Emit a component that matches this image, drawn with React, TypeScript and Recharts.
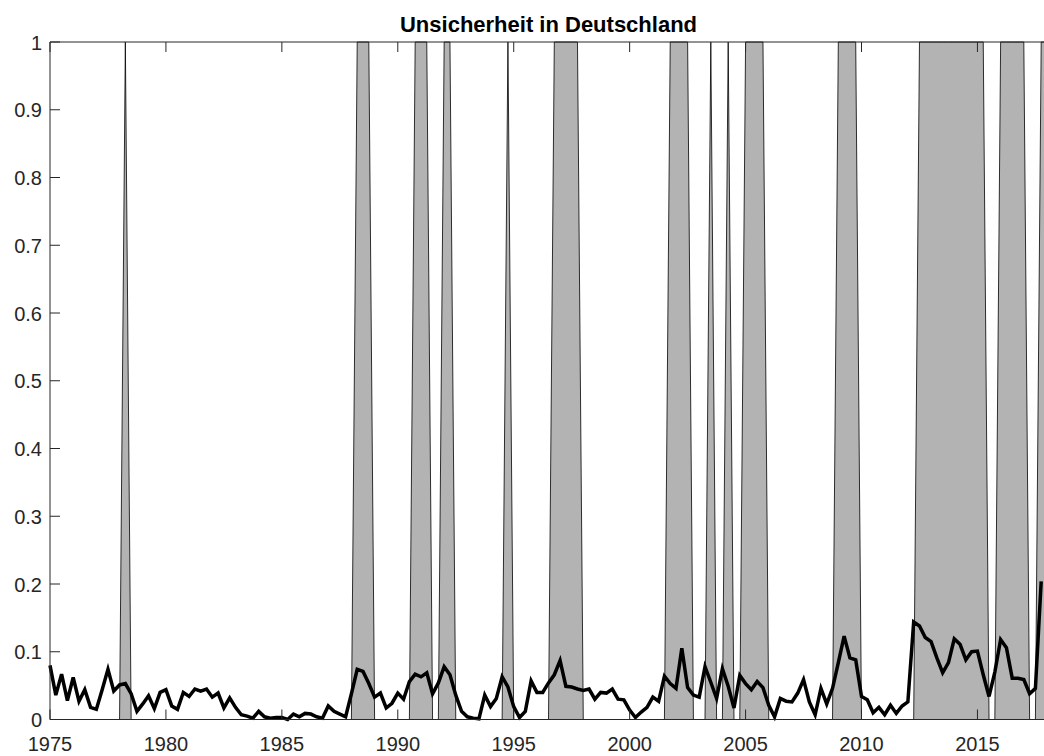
import React from 'react';
import { ComposedChart, Area, Line, XAxis, YAxis } from 'recharts';

// Quartalswerte ab 1975Q1
const firstYear = 1975;
const lastQuarter = 2018; // rechter Rand der Achse

const uncertainty = [
  0.080, 0.036, 0.067, 0.028, // 1975
  0.062, 0.027, 0.044, 0.018, // 1976
  0.015, 0.044, 0.074, 0.042, // 1977
  0.051, 0.053, 0.038, 0.012, // 1978
  0.023, 0.035, 0.016, 0.040, // 1979
  0.044, 0.020, 0.015, 0.040, // 1980
  0.034, 0.045, 0.042, 0.045, // 1981
  0.033, 0.039, 0.017, 0.032, // 1982
  0.018, 0.007, 0.005, 0.002, // 1983
  0.012, 0.004, 0.002, 0.003, // 1984
  0.003, 0.000, 0.008, 0.004, // 1985
  0.009, 0.008, 0.004, 0.002, // 1986
  0.020, 0.012, 0.008, 0.004, // 1987
  0.038, 0.074, 0.071, 0.053, // 1988
  0.033, 0.039, 0.017, 0.024, // 1989
  0.039, 0.030, 0.056, 0.067, // 1990
  0.063, 0.069, 0.038, 0.054, // 1991
  0.078, 0.066, 0.036, 0.012, // 1992
  0.004, 0.002, 0.001, 0.036, // 1993
  0.019, 0.031, 0.063, 0.048, // 1994
  0.019, 0.003, 0.012, 0.057, // 1995
  0.040, 0.040, 0.054, 0.066, // 1996
  0.087, 0.049, 0.048, 0.045, // 1997
  0.043, 0.045, 0.030, 0.040, // 1998
  0.039, 0.045, 0.030, 0.029, // 1999
  0.014, 0.003, 0.011, 0.018, // 2000
  0.033, 0.027, 0.064, 0.053, // 2001
  0.046, 0.105, 0.047, 0.036, // 2002
  0.033, 0.078, 0.055, 0.031, // 2003
  0.075, 0.049, 0.017, 0.065, // 2004
  0.053, 0.044, 0.056, 0.047, // 2005
  0.021, 0.004, 0.031, 0.027, // 2006
  0.026, 0.039, 0.059, 0.026, // 2007
  0.007, 0.046, 0.023, 0.046, // 2008
  0.084, 0.123, 0.091, 0.088, // 2009
  0.034, 0.029, 0.010, 0.018, // 2010
  0.007, 0.021, 0.009, 0.020, // 2011
  0.026, 0.144, 0.138, 0.121, // 2012
  0.115, 0.091, 0.069, 0.084, // 2013
  0.119, 0.111, 0.088, 0.100, // 2014
  0.101, 0.066, 0.034, 0.070, // 2015
  0.118, 0.106, 0.061, 0.061, // 2016
  0.059, 0.038, 0.046, 0.204, // 2017
];

// Phasen hoher Unsicherheit (erstes und letztes Quartal)
const highPhases: [number, number][] = [
  [1978.25, 1978.25],
  [1988.25, 1988.75],
  [1990.75, 1991.25],
  [1992.0, 1992.25],
  [1994.75, 1994.75],
  [1996.75, 1997.75],
  [2001.75, 2002.5],
  [2003.5, 2003.5],
  [2004.25, 2004.25],
  [2005.0, 2005.75],
  [2009.0, 2009.75],
  [2012.5, 2015.25],
  [2016.0, 2017.0],
  [2017.75, 2018.0],
];

const xTicks = [1975, 1980, 1985, 1990, 1995, 2000, 2005, 2010, 2015];
const yTicks = [0, 0.1, 0.2, 0.3, 0.4, 0.5, 0.6, 0.7, 0.8, 0.9, 1];

const quarters: number[] = [];
for (let q = firstYear; q <= lastQuarter; q += 0.25) quarters.push(q);

const data = quarters.map((t, i) => ({
  t,
  u: i < uncertainty.length ? uncertainty[i] : null,
  rec: highPhases.some(([a, b]) => t >= a - 1e-6 && t <= b + 1e-6) ? 1 : 0,
}));

const font = '"Liberation Sans", Arial, Helvetica, sans-serif';
const axisColor = '#262626';
const TICK = 10;

const BottomTick = (props: any) => {
  const { x, y, payload } = props;
  return (
    <g>
      <line x1={x} y1={y} x2={x} y2={y - TICK} stroke={axisColor} strokeWidth={1} />
      <text x={x} y={y + 31} textAnchor="middle" fontSize={20} fontFamily={font} fill={axisColor}>
        {payload.value}
      </text>
    </g>
  );
};

const TopTick = (props: any) => {
  const { x, y } = props;
  return <line x1={x} y1={y} x2={x} y2={y + TICK} stroke={axisColor} strokeWidth={1} />;
};

const LeftTick = (props: any) => {
  const { x, y, payload } = props;
  return (
    <g>
      <line x1={x} y1={y} x2={x + TICK} y2={y} stroke={axisColor} strokeWidth={1} />
      <text x={x - 8} y={y + 7.5} textAnchor="end" fontSize={20} fontFamily={font} fill={axisColor}>
        {String(payload.value)}
      </text>
    </g>
  );
};

const RightTick = (props: any) => {
  const { x, y } = props;
  return <line x1={x} y1={y} x2={x - TICK} y2={y} stroke={axisColor} strokeWidth={1} />;
};

export default function App() {
  return (
    <div style={{ position: 'absolute', left: 0, top: 0, width: 1044, height: 756, overflow: 'hidden', background: '#fff' }}>
      <div
        style={{
          position: 'absolute',
          left: 348.5,
          top: 14,
          width: 400,
          textAlign: 'center',
          fontFamily: font,
          fontWeight: 'bold',
          fontSize: 22,
          lineHeight: '22px',
          color: '#000',
        }}
      >
        Unsicherheit in Deutschland
      </div>
      <ComposedChart
        width={1060}
        height={756}
        data={data}
        margin={{ top: 41, right: 12, bottom: 6.5, left: 0 }}
      >
        <XAxis
          dataKey="t"
          type="number"
          domain={[firstYear, lastQuarter]}
          ticks={xTicks}
          interval={0}
          tickSize={0}
          tickMargin={0}
          height={30}
          tick={<BottomTick />}
          axisLine={{ stroke: axisColor, strokeWidth: 1 }}
        />
        <XAxis
          xAxisId="top"
          orientation="top"
          dataKey="t"
          type="number"
          domain={[firstYear, lastQuarter]}
          ticks={xTicks}
          interval={0}
          tickSize={0}
          tickMargin={0}
          height={1}
          tick={<TopTick />}
          axisLine={{ stroke: axisColor, strokeWidth: 1 }}
        />
        <YAxis
          type="number"
          domain={[0, 1]}
          ticks={yTicks}
          interval={0}
          tickSize={0}
          tickMargin={0}
          width={50}
          tick={<LeftTick />}
          axisLine={{ stroke: axisColor, strokeWidth: 1 }}
        />
        <YAxis
          yAxisId="right"
          orientation="right"
          type="number"
          domain={[0, 1]}
          ticks={yTicks}
          interval={0}
          tickSize={0}
          tickMargin={0}
          width={1}
          tick={<RightTick />}
          axisLine={{ stroke: axisColor, strokeWidth: 1 }}
        />
        <Area
          type="linear"
          dataKey="rec"
          fill="#b3b3b3"
          fillOpacity={1}
          stroke="#000"
          strokeWidth={0.8}
          isAnimationActive={false}
          dot={false}
          activeDot={false}
        />
        <Line
          type="linear"
          dataKey="u"
          stroke="#000"
          strokeWidth={3.5}
          dot={false}
          activeDot={false}
          isAnimationActive={false}
        />
      </ComposedChart>
    </div>
  );
}
